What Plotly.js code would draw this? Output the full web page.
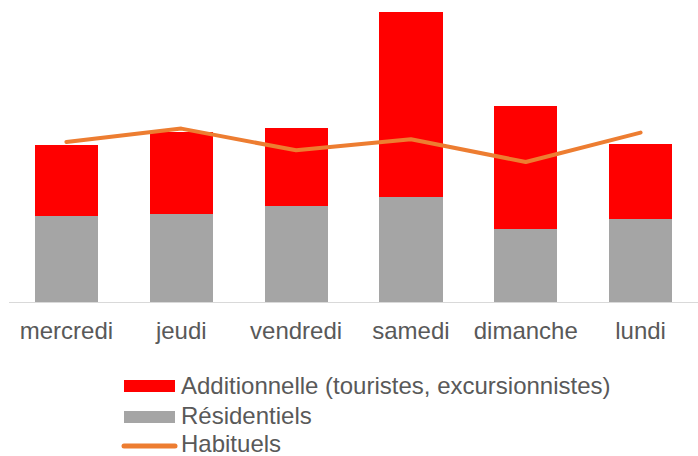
<!DOCTYPE html>
<html>
<head>
<meta charset="utf-8">
<script src="https://cdn.plot.ly/plotly-3.0.1.min.js"></script>
<style>
html,body{margin:0;padding:0;background:#fff;}
#chart{width:698px;height:456px;}
</style>
</head>
<body>
<div id="chart"></div>
<script>
var categories = ["mercredi", "jeudi", "vendredi", "samedi", "dimanche", "lundi"];
var residentiels = [85.7, 87.7, 96.4, 104.7, 72.7, 83.0];
var additionnelle = [71.7, 82.3, 78.0, 185.3, 123.7, 75.4];
var habituels = [160.0, 173.4, 151.7, 162.7, 140.0, 169.4];
var seriesNames = ["Additionnelle (touristes, excursionnistes)", "Résidentiels", "Habituels"];

var RED = "#FF0000", GRAY = "#A5A5A5", ORANGE = "#ED7D31", TXT = "#595959";
var W = 698, H = 456, L = 9, R = 0, T = 12, B = 154;
var pw = W - L - R, ph = H - T - B;
function px(x){ return (x - L) / pw; }
function py(y){ return (H - B - y) / ph; }

var traces = [
  {type: "bar", x: categories, y: residentiels, name: seriesNames[1], marker: {color: GRAY}, showlegend: false, hoverinfo: "skip"},
  {type: "bar", x: categories, y: additionnelle, name: seriesNames[0], marker: {color: RED}, showlegend: false, hoverinfo: "skip"},
  {type: "scatter", mode: "lines", x: categories, y: habituels, name: seriesNames[2], line: {color: ORANGE, width: 4}, showlegend: false, hoverinfo: "skip"}
];

var fontFam = "Liberation Sans, Arial, sans-serif";
var legendRows = [385, 415, 443];
var shapes = [
  {type: "rect", xref: "paper", yref: "paper", x0: px(124), x1: px(175), y0: py(392), y1: py(380), fillcolor: RED, line: {width: 0}},
  {type: "rect", xref: "paper", yref: "paper", x0: px(124), x1: px(175), y0: py(423), y1: py(411), fillcolor: GRAY, line: {width: 0}},
  {type: "line", xref: "paper", yref: "paper", x0: px(124), x1: px(175), y0: py(446), y1: py(446), line: {color: ORANGE, width: 5}}
];
var annotations = seriesNames.map(function(n, i){
  return {text: n, xref: "paper", yref: "paper", x: px(179), y: py(legendRows[i]), xanchor: "left", yanchor: "middle", showarrow: false, font: {family: fontFam, size: 24, color: TXT}};
});

var layout = {
  width: W, height: H,
  margin: {l: L, r: R, t: T, b: B, pad: 0},
  paper_bgcolor: "#fff", plot_bgcolor: "#fff",
  barmode: "stack", bargap: 0.45,
  showlegend: false,
  font: {family: fontFam, size: 24, color: TXT},
  xaxis: {showline: true, linecolor: "#D9D9D9", linewidth: 1, ticks: "", ticklabelstandoff: 7, showgrid: false, zeroline: false, tickfont: {family: fontFam, size: 24, color: TXT}, fixedrange: true},
  yaxis: {range: [0, 290], visible: false, showgrid: false, zeroline: false, fixedrange: true},
  shapes: shapes,
  annotations: annotations
};

Plotly.newPlot("chart", traces, layout, {displayModeBar: false, staticPlot: true}).then(function(){
  document.querySelectorAll(".js-line").forEach(function(p){ p.style.strokeLinecap = "round"; p.style.strokeLinejoin = "round"; });
  document.querySelectorAll(".shapelayer path").forEach(function(p){ p.style.strokeLinecap = "round"; });
});
</script>
</body>
</html>
